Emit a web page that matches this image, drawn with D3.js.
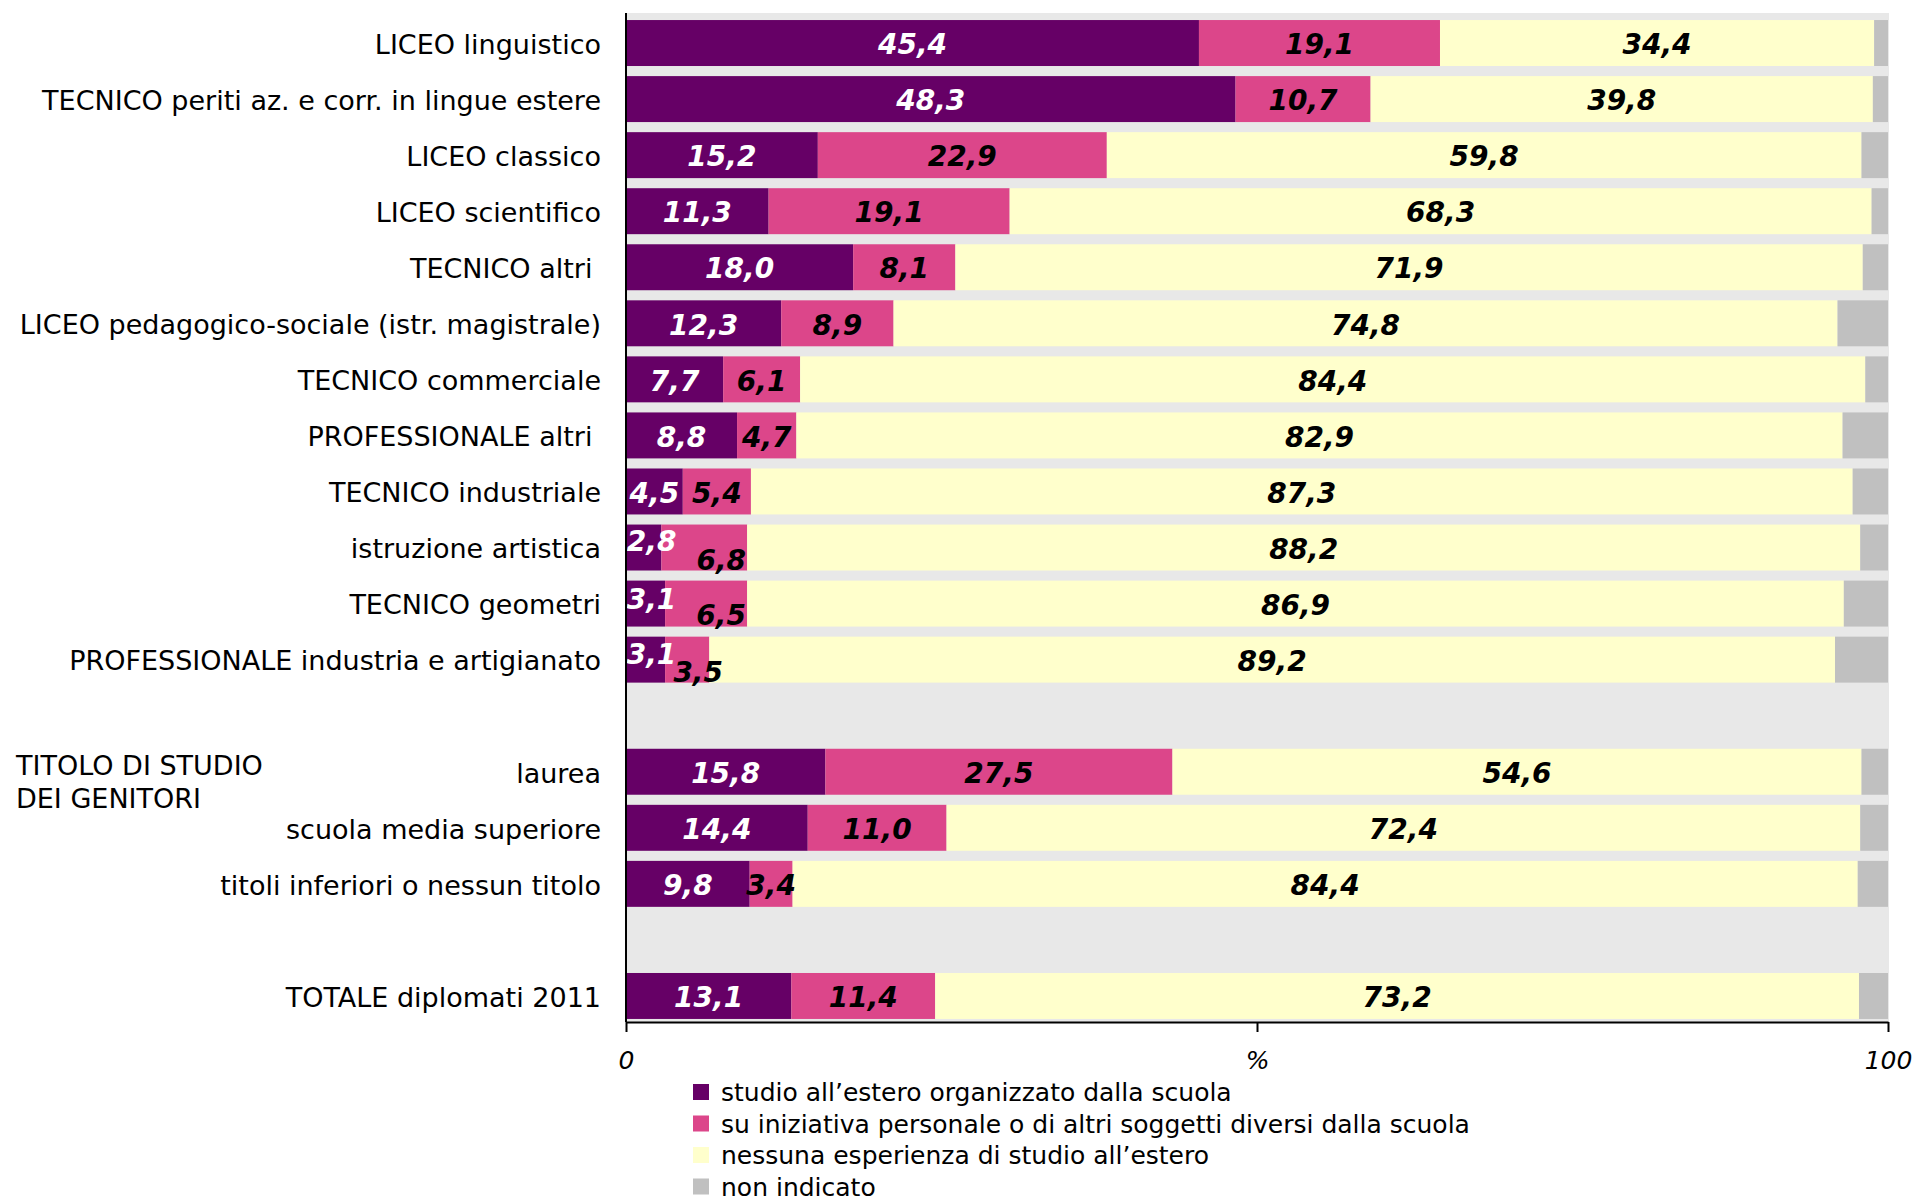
<!DOCTYPE html>
<html>
<head>
<meta charset="utf-8">
<script src="https://cdn.jsdelivr.net/npm/d3@7"></script>
<style>
  body { margin: 0; background: #fff; }
  svg { display: block; font-family: "DejaVu Sans", Verdana, sans-serif; }
</style>
</head>
<body>
<div class="container"></div>
<script>
const width = 1921;
const height = 1200;

// righe del grafico (dall'alto)
const categories = [
    'LICEO linguistico',
    'TECNICO periti az. e corr. in lingue estere',
    'LICEO classico',
    'LICEO scientifico',
    'TECNICO altri',
    'LICEO pedagogico-sociale (istr. magistrale)',
    'TECNICO commerciale',
    'PROFESSIONALE altri',
    'TECNICO industriale',
    'istruzione artistica',
    'TECNICO geometri',
    'PROFESSIONALE industria e artigianato',
    'laurea',
    'scuola media superiore',
    'titoli inferiori o nessun titolo',
    'TOTALE diplomati 2011'
];

const seriesNames = [
    'studio all\u2019estero organizzato dalla scuola',
    'su iniziativa personale o di altri soggetti diversi dalla scuola',
    'nessuna esperienza di studio all\u2019estero',
    'non indicato'
];

const scuola     = [45.4, 48.3, 15.2, 11.3, 18.0, 12.3, 7.7, 8.8, 4.5, 2.8, 3.1, 3.1, 15.8, 14.4, 9.8, 13.1];
const iniziativa = [19.1, 10.7, 22.9, 19.1, 8.1, 8.9, 6.1, 4.7, 5.4, 6.8, 6.5, 3.5, 27.5, 11.0, 3.4, 11.4];
const nessuna    = [34.4, 39.8, 59.8, 68.3, 71.9, 74.8, 84.4, 82.9, 87.3, 88.2, 86.9, 89.2, 54.6, 72.4, 84.4, 73.2];
const nonInd     = [1.1, 1.2, 2.1, 1.3, 2.0, 4.0, 1.8, 3.6, 2.8, 2.2, 3.5, 4.2, 2.1, 2.2, 2.4, 2.3];

const xTicks = [0, 50, 100];
const xTickLabels = ['0', '%', '100'];

const colors = ['#660066', '#dc468a', '#ffffcc', '#c0c0c0'];
const labelColors = ['#fff', '#000', '#000', null];

// etichette spostate a mano come nell'originale
const nudge = {
    'istruzione artistica': [[8, -8], [17, 11]],
    'TECNICO geometri': [[6, -6], [15, 10]],
    'PROFESSIONALE industria e artigianato': [[6, -7], [11, 11]]
};

const rowOf = {'TECNICO altri': 'TECNICO altri\u00a0', 'PROFESSIONALE altri': 'PROFESSIONALE altri\u00a0'};

const domain = [...categories.slice(0, 12), '_gap1', ...categories.slice(12, 15), '_gap2', categories[15]];

const plotTop = 13, plotBottom = 1022, plotLeft = 626, plotRight = 1888;

const y = d3.scaleBand()
    .domain(domain)
    .range([plotTop + 2, plotBottom + 2])
    .paddingInner(0.18)
    .paddingOuter(0.09);

const x = d3.scaleLinear()
    .domain([0, 100])
    .range([plotLeft, plotRight]);

const table = categories.map((c, i) => ({cat: c, vals: [scuola[i], iniziativa[i], nessuna[i], nonInd[i]]}));
const stack = d3.stack().keys([0, 1, 2, 3]).value((d, k) => d.vals[k]);
const stacked = stack(table);

const svg = d3.select('.container')
    .append('svg')
    .attr('width', width)
    .attr('height', height);

svg.append('rect')
    .attr('x', plotLeft)
    .attr('y', plotTop)
    .attr('width', plotRight - plotLeft + 1)
    .attr('height', plotBottom - plotTop)
    .attr('fill', '#e8e8e8');

const layers = svg.selectAll('g.layer')
    .data(stacked)
    .enter()
    .append('g')
    .attr('class', 'layer')
    .attr('fill', (d, i) => colors[i]);

layers.selectAll('rect')
    .data(d => d)
    .enter()
    .append('rect')
    .attr('x', d => x(d[0]))
    .attr('y', d => y(d.data.cat))
    .attr('width', d => x(d[1]) - x(d[0]))
    .attr('height', Math.min(y.bandwidth(), plotBottom - 1));

// valori
const off = (d, k, j) => (nudge[d.data.cat] && nudge[d.data.cat][k] ? nudge[d.data.cat][k][j] : 0);

stacked.slice(0, 3).forEach((layer, k) => {
    svg.append('g')
        .selectAll('text')
        .data(layer)
        .enter()
        .append('text')
        .attr('x', d => (x(d[0]) + x(d[1])) / 2 + off(d, k, 0))
        .attr('y', d => y(d.data.cat) + y.bandwidth() / 2 + off(d, k, 1))
        .attr('dy', '0.4em')
        .attr('text-anchor', 'middle')
        .attr('font-size', 28)
        .attr('font-weight', 'bold')
        .attr('font-style', 'italic')
        .attr('fill', labelColors[k])
        .text(d => d.data.vals[k].toFixed(1).replace('.', ','));
});

// etichette categorie
svg.append('g')
    .selectAll('text')
    .data(categories)
    .enter()
    .append('text')
    .attr('x', 601)
    .attr('y', d => y(d) + y.bandwidth() / 2)
    .attr('dy', '0.4em')
    .attr('text-anchor', 'end')
    .attr('font-size', 27)
    .attr('fill', '#000')
    .text(d => rowOf[d] || d);

const grp = svg.append('text')
    .attr('x', 16)
    .attr('y', 775)
    .attr('font-size', 27)
    .attr('fill', '#000');
grp.append('tspan').attr('x', 16).text('TITOLO DI STUDIO');
grp.append('tspan').attr('x', 16).attr('dy', 33).text('DEI GENITORI');

// assi
svg.append('line')
    .attr('x1', plotLeft).attr('x2', plotLeft)
    .attr('y1', plotTop).attr('y2', plotBottom)
    .attr('stroke', '#000')
    .attr('stroke-width', 2);

const xAxis = svg.append('g')
    .attr('transform', `translate(0,${plotBottom})`)
    .call(d3.axisBottom(x)
        .tickValues(xTicks)
        .tickFormat((d, i) => xTickLabels[i])
        .tickSize(10)
        .tickSizeOuter(0)
        .tickPadding(19));

xAxis.select('.domain').attr('stroke', '#000').attr('stroke-width', 2);
xAxis.selectAll('.tick line').attr('stroke', '#000').attr('stroke-width', 2);
xAxis.selectAll('.tick text')
    .attr('font-size', 25)
    .attr('font-style', 'italic')
    .attr('font-family', '"DejaVu Sans", Verdana, sans-serif')
    .attr('fill', '#000');

// legenda
const legend = svg.append('g')
    .selectAll('g')
    .data(seriesNames)
    .enter()
    .append('g')
    .attr('transform', (d, i) => `translate(693,${1092 + i * 31.5})`);

legend.append('rect')
    .attr('x', 0)
    .attr('y', -8)
    .attr('width', 16)
    .attr('height', 16)
    .attr('fill', (d, i) => colors[i]);

legend.append('text')
    .attr('x', 28)
    .attr('dy', '0.36em')
    .attr('font-size', 25)
    .attr('fill', '#000')
    .text(d => d);
</script>
</body>
</html>
